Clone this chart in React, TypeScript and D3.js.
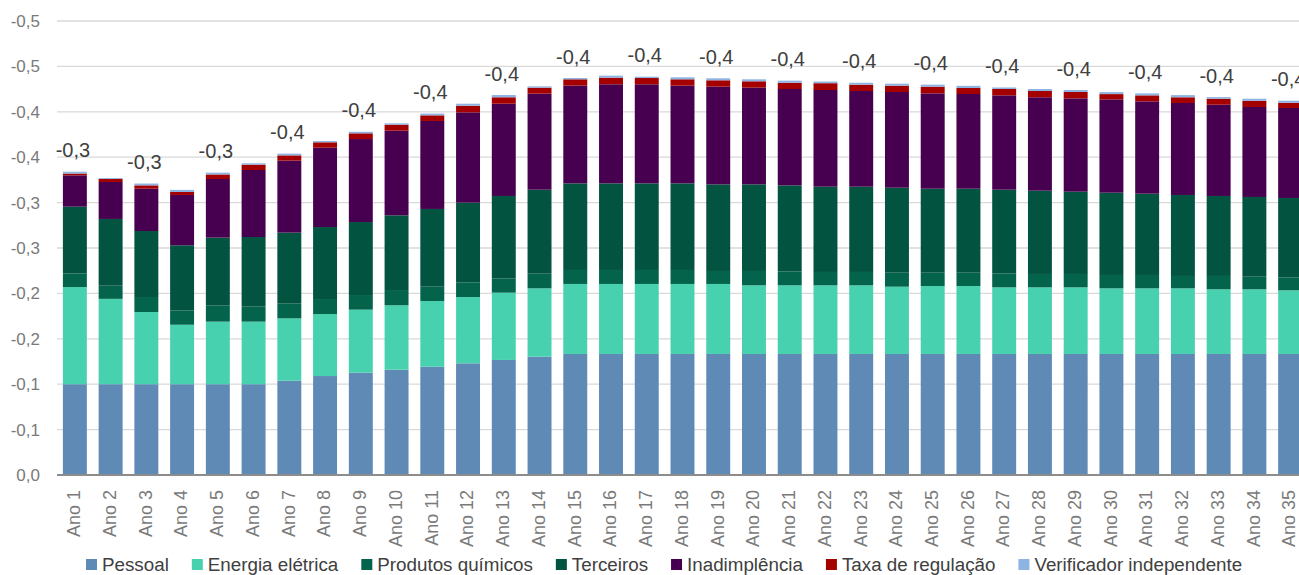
import * as d3 from 'd3';
import { useMemo } from 'react';

const anos = d3.range(1, 36).map((i) => `Ano ${i}`);

const pessoal = [
  0.1, 0.1, 0.1, 0.1, 0.1, 0.1, 0.1039, 0.109, 0.1127, 0.116, 0.1193, 0.123,
  0.1267, 0.1303, 0.1333, 0.1333, 0.1333, 0.1333, 0.1333, 0.1333, 0.1333,
  0.1333, 0.1333, 0.1333, 0.1333, 0.1333, 0.1333, 0.1333, 0.1333, 0.1333,
  0.1333, 0.1333, 0.1333, 0.1333, 0.1333,
];
const energia = [
  0.107, 0.094, 0.0795, 0.0655, 0.0689, 0.0689, 0.0686, 0.0683, 0.0694,
  0.0709, 0.0723, 0.073, 0.0741, 0.0753, 0.0771, 0.0771, 0.0771, 0.0771,
  0.0771, 0.0756, 0.0756, 0.0756, 0.0756, 0.0741, 0.0748, 0.0748, 0.0734,
  0.0734, 0.0734, 0.0723, 0.0723, 0.0723, 0.0712, 0.0712, 0.0701,
];
const quimicos = [
  0.015, 0.0145, 0.0165, 0.0158, 0.0176, 0.0165, 0.0162, 0.0165, 0.0161,
  0.0168, 0.0158, 0.0162, 0.0158, 0.0161, 0.0154, 0.0154, 0.0154, 0.0154,
  0.0143, 0.0158, 0.0154, 0.0147, 0.0147, 0.0154, 0.0147, 0.0147, 0.0154,
  0.0147, 0.0147, 0.0147, 0.0147, 0.0136, 0.0147, 0.0139, 0.0143,
];
const terceiros = [
  0.0735, 0.0735, 0.0727, 0.0717, 0.0749, 0.0767, 0.0782, 0.0793, 0.0804,
  0.0823, 0.0856, 0.0877, 0.0907, 0.0925, 0.0954, 0.0954, 0.0954, 0.0954,
  0.0954, 0.0954, 0.0947, 0.0939, 0.0939, 0.0936, 0.0925, 0.0925, 0.0921,
  0.0917, 0.0906, 0.0906, 0.0895, 0.0892, 0.0881, 0.0878, 0.0874,
];
const inadimplencia = [
  0.0345, 0.0407, 0.0466, 0.0554, 0.0646, 0.0738, 0.0793, 0.0874, 0.0914,
  0.0932, 0.0969, 0.0995, 0.1016, 0.1058, 0.1076, 0.1091, 0.1091, 0.1076,
  0.1076, 0.1065, 0.1061, 0.1065, 0.1054, 0.1054, 0.105, 0.1043, 0.1039,
  0.1029, 0.1028, 0.1028, 0.1017, 0.1013, 0.1005, 0.0991, 0.0991,
];
const taxa = [
  0.002, 0.0033, 0.0037, 0.0033, 0.005, 0.0059, 0.0058, 0.0059, 0.0063,
  0.0066, 0.0062, 0.0073, 0.0071, 0.0066, 0.007, 0.0073, 0.0069, 0.007,
  0.007, 0.007, 0.0069, 0.0075, 0.007, 0.007, 0.0074, 0.0066, 0.007, 0.0069,
  0.007, 0.0058, 0.0066, 0.0063, 0.0066, 0.0069, 0.0058,
];
const verificador = [
  0.002, 0.001, 0.002, 0.0023, 0.002, 0.0015, 0.0019, 0.0014, 0.0017,
  0.0015, 0.0019, 0.0022, 0.0025, 0.0014, 0.0014, 0.0022, 0.0015, 0.0022,
  0.0022, 0.0022, 0.0023, 0.0018, 0.0021, 0.0022, 0.0022, 0.0024, 0.0017,
  0.0022, 0.0022, 0.0022, 0.0022, 0.0024, 0.0018, 0.0022, 0.0022,
];

const seriesNames = [
  'Pessoal',
  'Energia elétrica',
  'Produtos químicos',
  'Terceiros',
  'Inadimplência',
  'Taxa de regulação',
  'Verificador independente',
];
const seriesValues = [
  pessoal,
  energia,
  quimicos,
  terceiros,
  inadimplencia,
  taxa,
  verificador,
];
const colors = [
  '#5f8ab5',
  '#48d1ae',
  '#04634b',
  '#02533f',
  '#47004f',
  '#a50000',
  '#8db4e2',
];

const width = 1299;
const height = 575;
const marginLeft = 57;
const plotRight = 1308;
const yTop = 21;
const yBottom = 475;
const font = "'Liberation Sans', Arial, sans-serif";

const fmt = (v: number) => {
  const r = Math.round(v * 10 + 1e-9) / 10;
  if (r === 0) return '0,0';
  return '-' + r.toFixed(1).replace('.', ',');
};

export default function App() {
  const rows = useMemo(
    () =>
      anos.map((ano, i) => {
        const row: Record<string, number | string> = { ano };
        seriesNames.forEach((s, k) => (row[s] = seriesValues[k][i]));
        return row;
      }),
    [],
  );

  const stacked = d3.stack<Record<string, number | string>>().keys(seriesNames)(
    rows as any,
  );

  const x = d3
    .scaleBand<string>()
    .domain(anos)
    .range([marginLeft, plotRight])
    .paddingInner(0.33)
    .paddingOuter(0.165);
  const y = d3.scaleLinear([0, 0.5], [yBottom, yTop]);
  const yTicks = y.ticks(10);

  const totals = anos.map((_, i) => d3.sum(seriesValues, (s) => s[i]));

  // legend layout from measured text widths
  const legendSize = 18.8;
  const legend = useMemo(() => {
    const ctx = document.createElement('canvas').getContext('2d')!;
    ctx.font = `${legendSize}px ${font}`;
    let pos = 86;
    return seriesNames.map((name, k) => {
      const item = { name, color: colors[k], x: pos };
      pos += 11 + 5 + ctx.measureText(name).width + 23;
      return item;
    });
  }, []);

  return (
    <svg
      width={width}
      height={height}
      style={{ position: 'absolute', left: 0, top: 0, background: '#fff' }}
      fontFamily={font}
    >
      <g>
        {yTicks.map((t) => (
          <g key={t}>
            {t > 0 && (
              <line
                x1={marginLeft}
                x2={width}
                y1={y(t)}
                y2={y(t)}
                stroke='#d9d9d9'
                strokeWidth={1.3}
              />
            )}
            <text
              x={40}
              y={y(t)}
              dy='0.35em'
              textAnchor='end'
              fontSize={17}
              fill='#7a7a7a'
            >
              {fmt(t)}
            </text>
          </g>
        ))}
      </g>

      {stacked.map((layer, k) => (
        <g key={layer.key} fill={colors[k]}>
          {layer.map((d, i) => (
            <rect
              key={i}
              x={x(anos[i])}
              width={x.bandwidth()}
              y={y(d[1])}
              height={Math.max(0, y(d[0]) - y(d[1]))}
            />
          ))}
        </g>
      ))}

      <line
        x1={marginLeft}
        x2={width}
        y1={yBottom}
        y2={yBottom}
        stroke='#8c8c8c'
        strokeWidth={1.8}
      />

      <g fontSize={20} fill='#404040' textAnchor='middle'>
        {totals.map((t, i) =>
          i % 2 === 0 ? (
            <text
              key={i}
              x={(x(anos[i]) ?? 0) + x.bandwidth() / 2 - 2}
              y={y(t) - 14.5}
            >
              {fmt(t)}
            </text>
          ) : null,
        )}
      </g>

      <g fontSize={18} fill='#7a7a7a'>
        {anos.map((a) => (
          <text
            key={a}
            transform={`translate(${(x(a) ?? 0) + x.bandwidth() / 2 - 1},490) rotate(-90)`}
            textAnchor='end'
            dy='0.35em'
          >
            {a}
          </text>
        ))}
      </g>

      <g fontSize={legendSize} fill='#404040'>
        {legend.map((l) => (
          <g key={l.name} transform={`translate(${l.x},559)`}>
            <rect width={11} height={11} fill={l.color} />
            <text x={16} y={5.5} dy='0.35em'>
              {l.name}
            </text>
          </g>
        ))}
      </g>
    </svg>
  );
}
